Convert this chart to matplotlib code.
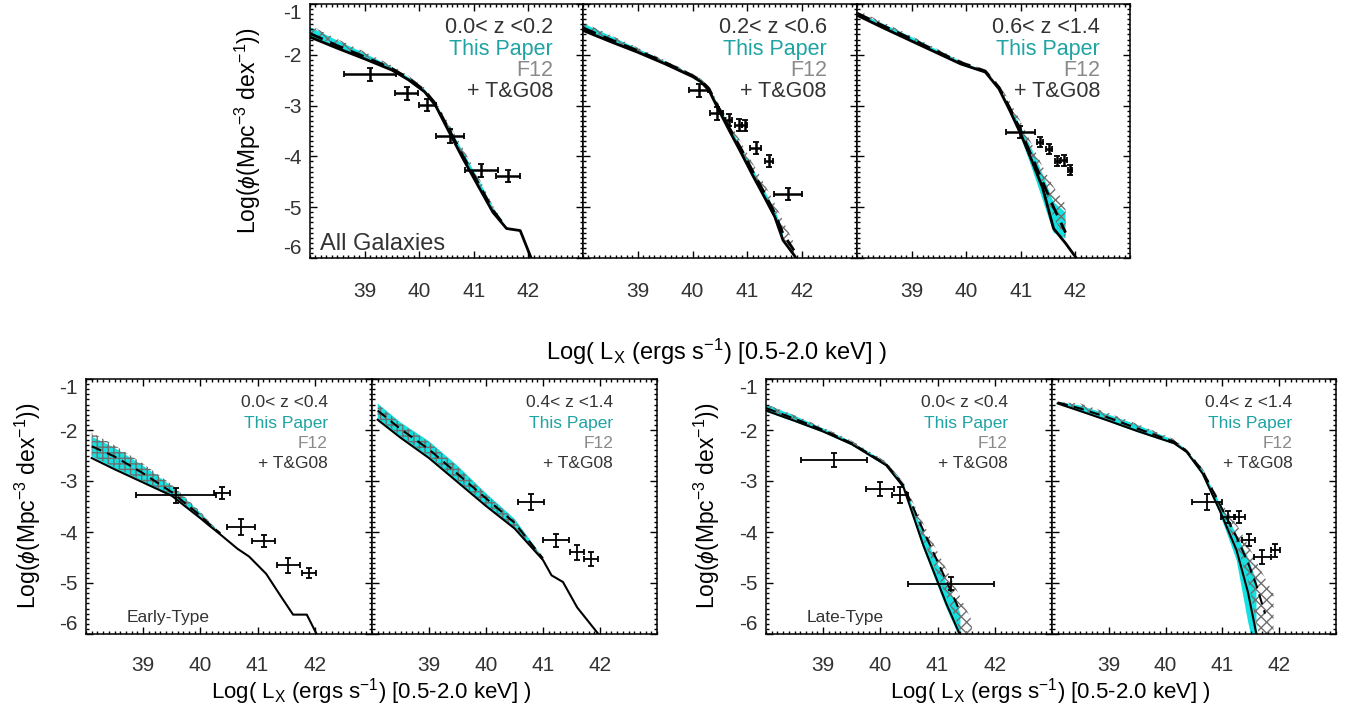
import numpy as np
import matplotlib
matplotlib.use('Agg')
import matplotlib.pyplot as plt
from matplotlib.ticker import MultipleLocator

plt.rcParams['font.family'] = ['Liberation Sans', 'DejaVu Sans']
plt.rcParams['mathtext.fontset'] = 'custom'
plt.rcParams['mathtext.rm'] = 'Liberation Sans'
plt.rcParams['mathtext.it'] = 'Liberation Sans:italic'
plt.rcParams['mathtext.default'] = 'regular'
plt.rcParams['hatch.linewidth'] = 1.0
plt.rcParams['axes.unicode_minus'] = False

nan = np.nan

# ---------------- Panel A: All galaxies, 0.0<z<0.2 ----------------
A_x      = [38.0, 38.5, 39.0, 39.5, 39.8, 40.1, 40.3, 40.5, 40.8, 41.1, 41.35, 41.6, 41.85, 42.05, 42.2]
A_solid  = [-1.65, -1.87, -2.08, -2.30, -2.49, -2.73, -3.00, -3.42, -4.04, -4.62, -5.10, -5.42, -5.46, -6.00, -6.40]
A_dash   = [-1.58, -1.82, -2.04, -2.27, -2.46, -2.70, -2.97, -3.38, -3.99, -4.56, -5.06, -5.41, nan, nan, nan]
A_tp_lo  = [-1.63, -1.85, -2.06, -2.29, -2.48, -2.72, -2.99, -3.41, -4.02, -4.60, -5.08, -5.42, nan, nan, nan]
A_tp_hi  = [-1.45, -1.72, -1.97, -2.24, -2.44, -2.68, -2.95, -3.33, -3.90, -4.48, -5.00, -5.40, nan, nan, nan]
A_f12_lo = [-1.60, -1.82, -2.03, -2.27, -2.46, -2.70, -2.98, -3.38, -3.97, -4.55, -5.05, -5.42, nan, nan, nan]
A_f12_hi = [-1.42, -1.69, -1.94, -2.21, -2.41, -2.65, -2.92, -3.28, -3.84, -4.43, -4.97, -5.40, nan, nan, nan]
A_tg_x    = [39.10, 39.77, 40.15, 40.56, 41.14, 41.63]
A_tg_y    = [-2.38, -2.76, -2.99, -3.60, -4.27, -4.39]
A_tg_xerr = [0.48, 0.21, 0.15, 0.26, 0.30, 0.22]
A_tg_yerr = [0.13, 0.12, 0.12, 0.13, 0.13, 0.12]

# ---------------- Panel B: All galaxies, 0.2<z<0.6 ----------------
B_x      = [38.0, 38.5, 39.0, 39.5, 40.0, 40.15, 40.3, 40.45, 40.65, 40.9, 41.1, 41.3, 41.5, 41.65, 41.85, 42.0]
B_solid  = [-1.52, -1.74, -1.95, -2.18, -2.43, -2.53, -2.70, -3.03, -3.45, -3.96, -4.38, -4.78, -5.19, -5.65, -5.94, -6.20]
B_dash   = [-1.47, -1.70, -1.92, -2.15, -2.41, -2.51, -2.67, -2.99, -3.40, -3.88, -4.30, -4.70, -5.12, -5.52, -5.85, nan]
B_tp_lo  = [-1.52, -1.74, -1.95, -2.18, -2.43, -2.53, -2.70, -3.03, -3.45, -3.96, -4.38, -4.78, -5.19, -5.65, nan, nan]
B_tp_hi  = [-1.38, -1.63, -1.88, -2.13, -2.39, -2.49, -2.64, -2.95, -3.35, -3.85, -4.25, -4.65, -5.05, -5.45, nan, nan]
B_f12_lo = [-1.48, -1.71, -1.93, -2.16, -2.42, -2.52, -2.68, -3.00, -3.42, -3.93, -4.34, -4.74, -5.16, -5.60, -5.90, nan]
B_f12_hi = [-1.36, -1.61, -1.86, -2.11, -2.37, -2.47, -2.62, -2.92, -3.28, -3.75, -4.14, -4.52, -4.93, -5.27, -5.70, nan]
B_tg_x    = [40.11, 40.44, 40.66, 40.84, 40.95, 41.15, 41.39, 41.74]
B_tg_y    = [-2.70, -3.15, -3.28, -3.38, -3.39, -3.83, -4.09, -4.74]
B_tg_xerr = [0.17, 0.12, 0.06, 0.06, 0.05, 0.10, 0.07, 0.25]
B_tg_yerr = [0.13, 0.13, 0.12, 0.12, 0.11, 0.12, 0.12, 0.11]

# ---------------- Panel C: All galaxies, 0.6<z<1.4 ----------------
C_x      = [38.0, 38.5, 39.0, 39.5, 39.9, 40.35, 40.6, 40.8, 41.0, 41.2, 41.4, 41.6, 41.82, 42.05]
C_solid  = [-1.22, -1.48, -1.73, -1.98, -2.18, -2.34, -2.67, -3.10, -3.56, -4.08, -4.62, -5.42, -5.71, -6.05]
C_dash   = [-1.18, -1.44, -1.69, -1.95, -2.15, -2.32, -2.64, -3.05, -3.50, -4.00, -4.50, -5.00, -5.50, nan]
C_tp_lo  = [-1.24, -1.49, -1.74, -1.99, -2.19, -2.35, -2.68, -3.13, -3.62, -4.22, -4.85, -5.50, -5.62, nan]
C_tp_hi  = [-1.16, -1.40, -1.65, -1.92, -2.13, -2.32, -2.63, -3.02, -3.42, -3.85, -4.35, -4.90, -5.10, nan]
C_f12_lo = [-1.21, -1.46, -1.71, -1.97, -2.17, -2.34, -2.66, -3.08, -3.50, -4.00, -4.55, -5.20, -5.62, nan]
C_f12_hi = [-1.12, -1.37, -1.63, -1.90, -2.11, -2.30, -2.58, -2.92, -3.32, -3.75, -4.20, -4.60, -4.94, nan]
C_tg_x    = [40.99, 41.35, 41.52, 41.67, 41.79, 41.90]
C_tg_y    = [-3.52, -3.72, -3.85, -4.09, -4.08, -4.26]
C_tg_xerr = [0.27, 0.05, 0.05, 0.05, 0.05, 0.04]
C_tg_yerr = [0.12, 0.10, 0.10, 0.10, 0.11, 0.10]

# ---------------- Panel D: Early-type, 0.0<z<0.4 ----------------
D_x      = [38.1, 38.5, 39.0, 39.5, 40.0, 40.15, 40.35, 40.65, 40.85, 41.15, 41.4, 41.62, 41.86, 42.0, 42.1]
D_solid  = [-2.55, -2.77, -3.03, -3.29, -3.73, -3.87, -4.05, -4.33, -4.48, -4.82, -5.25, -5.62, -5.62, -5.93, -6.15]
D_dash   = [-2.32, -2.52, -2.85, -3.22, -3.68, -3.84, -4.03, nan, nan, nan, nan, nan, nan, nan, nan]
D_tp_lo  = [-2.52, -2.75, -3.01, -3.28, -3.72, -3.86, -4.04, nan, nan, nan, nan, nan, nan, nan, nan]
D_tp_hi  = [-2.13, -2.35, -2.70, -3.10, -3.62, -3.80, -4.02, nan, nan, nan, nan, nan, nan, nan, nan]
D_f12_lo = [-2.50, -2.73, -3.00, -3.27, -3.71, -3.85, -4.04, nan, nan, nan, nan, nan, nan, nan, nan]
D_f12_hi = [-2.05, -2.30, -2.66, -3.07, -3.60, -3.79, -4.01, nan, nan, nan, nan, nan, nan, nan, nan]
D_tg_x    = [39.57, 40.37, 40.71, 41.11, 41.54, 41.90]
D_tg_y    = [-3.28, -3.23, -3.90, -4.17, -4.65, -4.80]
D_tg_xerr = [0.70, 0.14, 0.24, 0.20, 0.20, 0.12]
D_tg_yerr = [0.15, 0.12, 0.15, 0.12, 0.15, 0.10]

# ---------------- Panel E: Early-type, 0.4<z<1.4 ----------------
E_x      = [38.1, 38.5, 39.0, 39.5, 40.0, 40.5, 41.0, 41.15, 41.35, 41.6, 42.0, 42.1]
E_solid  = [-1.80, -2.15, -2.55, -3.02, -3.49, -3.93, -4.55, -4.85, -4.98, -5.48, -6.04, -6.20]
E_dash   = [-1.62, -1.98, -2.38, -2.86, -3.34, -3.82, -4.52, nan, nan, nan, nan, nan]
E_tp_lo  = [-1.78, -2.13, -2.53, -3.00, -3.47, -3.92, -4.54, nan, nan, nan, nan, nan]
E_tp_hi  = [-1.48, -1.85, -2.22, -2.70, -3.24, -3.74, -4.50, nan, nan, nan, nan, nan]
E_f12_lo = [-1.76, -2.11, -2.51, -2.98, -3.46, -3.91, -4.53, nan, nan, nan, nan, nan]
E_f12_hi = [-1.50, -1.87, -2.24, -2.72, -3.26, -3.76, -4.51, nan, nan, nan, nan, nan]
E_tg_x    = [40.79, 41.23, 41.60, 41.84]
E_tg_y    = [-3.41, -4.16, -4.40, -4.53]
E_tg_xerr = [0.22, 0.23, 0.12, 0.12]
E_tg_yerr = [0.16, 0.13, 0.15, 0.13]

# ---------------- Panel F: Late-type, 0.0<z<0.4 ----------------
F_x      = [38.0, 38.5, 39.0, 39.5, 40.1, 40.4, 40.75, 41.15, 41.4, 41.6, 41.7]
F_solid  = [-1.62, -1.82, -2.03, -2.28, -2.69, -3.11, -4.26, -5.40, -6.04, nan, nan]
F_dash   = [-1.57, -1.78, -2.00, -2.26, -2.67, -3.08, -3.97, -4.95, -5.58, nan, nan]
F_tp_lo  = [-1.64, -1.84, -2.05, -2.30, -2.71, -3.14, -4.32, -5.48, -6.10, nan, nan]
F_tp_hi  = [-1.50, -1.72, -1.97, -2.23, -2.64, -3.05, -4.00, -5.00, -5.60, nan, nan]
F_f12_lo = [-1.60, -1.80, -2.02, -2.27, -2.68, -3.09, -4.15, -5.25, -5.95, -6.50, nan]
F_f12_hi = [-1.49, -1.71, -1.95, -2.21, -2.62, -3.02, -3.83, -4.72, -5.28, -5.74, nan]
F_tg_x    = [39.19, 39.99, 40.35, 41.24]
F_tg_y    = [-2.59, -3.15, -3.28, -5.01]
F_tg_xerr = [0.58, 0.24, 0.14, 0.75]
F_tg_yerr = [0.14, 0.14, 0.16, 0.13]

# ---------------- Panel G: Late-type, 0.4<z<1.4 ----------------
G_x      = [38.1, 38.5, 39.0, 39.5, 40.15, 40.37, 40.65, 40.95, 41.25, 41.45, 41.6, 41.75, 41.9]
G_solid  = [-1.48, -1.63, -1.82, -2.02, -2.26, -2.43, -2.85, -3.57, -4.36, -5.18, -6.01, nan, nan]
G_dash   = [-1.46, -1.58, -1.76, -1.97, -2.23, -2.41, -2.80, -3.45, -4.10, -4.60, -5.05, -5.60, nan]
G_tp_lo  = [-1.49, -1.64, -1.84, -2.04, -2.28, -2.45, -2.88, -3.62, -4.55, -5.75, -6.50, nan, nan]
G_tp_hi  = [-1.45, -1.52, -1.70, -1.90, -2.20, -2.39, -2.78, -3.42, -4.05, -4.50, -4.95, -5.45, nan]
G_f12_lo = [-1.47, -1.60, -1.80, -2.00, -2.25, -2.42, -2.84, -3.52, -4.25, -4.95, -5.80, -6.50, -6.50]
G_f12_hi = [-1.45, -1.48, -1.67, -1.88, -2.18, -2.38, -2.75, -3.38, -3.85, -4.25, -4.58, -4.90, -5.21]
G_tg_x    = [40.73, 41.10, 41.30, 41.46, 41.70, 41.93]
G_tg_y    = [-3.41, -3.70, -3.70, -4.16, -4.49, -4.36]
G_tg_xerr = [0.26, 0.13, 0.10, 0.12, 0.15, 0.08]
G_tg_yerr = [0.16, 0.12, 0.12, 0.12, 0.13, 0.13]

z_labels = ['0.0< z <0.2', '0.2< z <0.6', '0.6< z <1.4',
            '0.0< z <0.4', '0.4< z <1.4', '0.0< z <0.4', '0.4< z <1.4']
legend_labels = ['This Paper', 'F12', '+ T&G08']
x_ticks = [39, 40, 41, 42]
y_ticks = [-6, -5, -4, -3, -2, -1]

CYAN = '#14e1e1'
TEAL = '#1fa3a3'
GREY = '#8a8a8a'
HATCH = '#6f6f6f'
DARK = '#333333'

W, H = 1346, 713
fig = plt.figure(figsize=(W / 100, H / 100), dpi=100)


def make_ax(left, top, right, bottom):
    return fig.add_axes([left / W, 1 - bottom / H, (right - left) / W, (bottom - top) / H])


def draw(ax, x, solid, dash, tp_lo, tp_hi, f_lo, f_hi, tx, ty, txe, tye,
         zlab, big, hatch, show_y):
    x = np.array(x, float)
    ax.fill_between(x, np.array(tp_lo, float), np.array(tp_hi, float),
                    facecolor=CYAN, edgecolor='none', linewidth=0, zorder=1)
    ax.fill_between(x, np.array(f_lo, float), np.array(f_hi, float),
                    facecolor='none', edgecolor=HATCH, hatch=hatch, linewidth=0, zorder=2)
    lw = 2.0 if big else 1.5
    ax.plot(x, np.array(solid, float), color='black', lw=lw, zorder=3)
    ax.plot(x, np.array(dash, float), color='black', lw=lw, ls=(0, (5, 3)), zorder=3)
    ax.errorbar(tx, ty, xerr=txe, yerr=tye, fmt='none', ecolor='black',
                elinewidth=1.8 if big else 1.3, capsize=2.5, capthick=1.3, zorder=4)
    ax.set_xlim(38, 43)
    ax.set_ylim(-6, -1)
    ax.set_xticks(x_ticks)
    ax.set_yticks(y_ticks)
    ax.xaxis.set_minor_locator(MultipleLocator(0.1))
    ax.yaxis.set_minor_locator(MultipleLocator(0.1))
    ax.tick_params(which='both', direction='in', top=True, right=True,
                   labelsize=15, labelcolor=DARK, width=1.0)
    ax.tick_params(which='major', length=5)
    ax.tick_params(which='minor', length=2.2)
    ax.tick_params(axis='x', pad=17 if big else 16)
    ax.tick_params(axis='y', pad=6)
    for s in ax.spines.values():
        s.set_linewidth(1.1)
    if show_y:
        labs = ax.get_yticklabels()
        labs[0].set_va('bottom')
        labs[-1].set_va('top')
    else:
        ax.set_yticklabels([])
    tfs = 15.5 if big else 12.5
    xr = 0.89 if big else 0.846
    ys = [0.906, 0.822, 0.740, 0.655] if big else [0.906, 0.827, 0.749, 0.670]
    ax.text(xr, ys[0], zlab, transform=ax.transAxes, ha='right', va='center', fontsize=tfs, color=DARK)
    ax.text(xr, ys[1], legend_labels[0], transform=ax.transAxes, ha='right', va='center', fontsize=tfs, color=TEAL)
    ax.text(xr, ys[2], legend_labels[1], transform=ax.transAxes, ha='right', va='center', fontsize=tfs, color=GREY)
    ax.text(xr, ys[3], legend_labels[2], transform=ax.transAxes, ha='right', va='center', fontsize=tfs, color=DARK)


# top row
axA = make_ax(310, 4, 583, 258)
axB = make_ax(583, 4, 857, 258)
axC = make_ax(857, 4, 1130, 258)
# bottom row
axD = make_ax(86, 379, 372, 634)
axE = make_ax(372, 379, 657, 634)
axF = make_ax(766, 379, 1052, 634)
axG = make_ax(1052, 379, 1336, 634)

draw(axA, A_x, A_solid, A_dash, A_tp_lo, A_tp_hi, A_f12_lo, A_f12_hi,
     A_tg_x, A_tg_y, A_tg_xerr, A_tg_yerr, z_labels[0], True, 'xxx', True)
draw(axB, B_x, B_solid, B_dash, B_tp_lo, B_tp_hi, B_f12_lo, B_f12_hi,
     B_tg_x, B_tg_y, B_tg_xerr, B_tg_yerr, z_labels[1], True, 'xxx', False)
draw(axC, C_x, C_solid, C_dash, C_tp_lo, C_tp_hi, C_f12_lo, C_f12_hi,
     C_tg_x, C_tg_y, C_tg_xerr, C_tg_yerr, z_labels[2], True, 'xxx', False)
draw(axD, D_x, D_solid, D_dash, D_tp_lo, D_tp_hi, D_f12_lo, D_f12_hi,
     D_tg_x, D_tg_y, D_tg_xerr, D_tg_yerr, z_labels[3], False, '+++', True)
draw(axE, E_x, E_solid, E_dash, E_tp_lo, E_tp_hi, E_f12_lo, E_f12_hi,
     E_tg_x, E_tg_y, E_tg_xerr, E_tg_yerr, z_labels[4], False, '+++', False)
draw(axF, F_x, F_solid, F_dash, F_tp_lo, F_tp_hi, F_f12_lo, F_f12_hi,
     F_tg_x, F_tg_y, F_tg_xerr, F_tg_yerr, z_labels[5], False, 'xxx', True)
draw(axG, G_x, G_solid, G_dash, G_tp_lo, G_tp_hi, G_f12_lo, G_f12_hi,
     G_tg_x, G_tg_y, G_tg_xerr, G_tg_yerr, z_labels[6], False, 'xxx', False)

axA.text(0.037, 0.055, 'All Galaxies', transform=axA.transAxes, ha='left', va='center',
         fontsize=17, color=DARK)
axD.text(0.142, 0.063, 'Early-Type', transform=axD.transAxes, ha='left', va='center',
         fontsize=12.5, color=DARK)
axF.text(0.142, 0.063, 'Late-Type', transform=axF.transAxes, ha='left', va='center',
         fontsize=12.5, color=DARK)

ylab = r'Log($\mathit{\phi}$(Mpc$^{-3}$ dex$^{-1}$))'
xlab = r'Log( L$_{\rm X}$ (ergs s$^{-1}$) [0.5-2.0 keV] )'
fig.text(248 / W, 1 - 131 / H, ylab, rotation=90, ha='center', va='center', fontsize=16.5, color='black')
fig.text(28 / W, 1 - 506 / H, ylab, rotation=90, ha='center', va='center', fontsize=16.5, color='black')
fig.text(707 / W, 1 - 506 / H, ylab, rotation=90, ha='center', va='center', fontsize=16.5, color='black')
fig.text(716 / W, 1 - 352 / H, xlab, ha='center', va='center', fontsize=17, color='black')
fig.text(371 / W, 1 - 692 / H, xlab, ha='center', va='center', fontsize=16, color='black')
fig.text(1050 / W, 1 - 692 / H, xlab, ha='center', va='center', fontsize=16, color='black')

fig.savefig('out.png', dpi=100)
